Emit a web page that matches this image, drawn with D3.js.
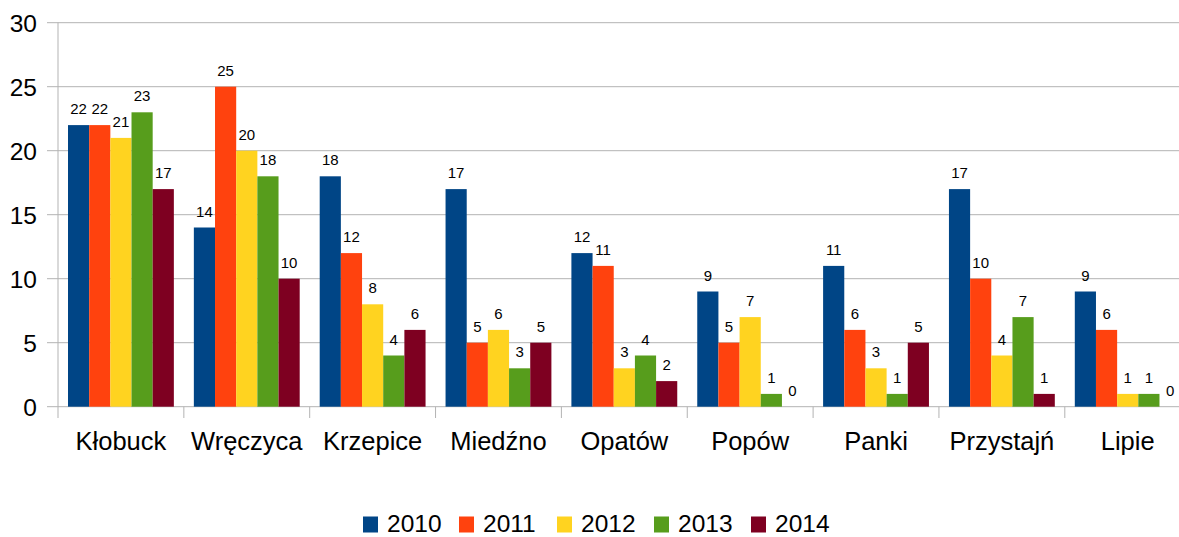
<!DOCTYPE html>
<html><head><meta charset="utf-8">
<script src="https://cdn.jsdelivr.net/npm/d3@7"></script>
<style>body{margin:0;background:#fff;overflow:hidden}svg{display:block;font-family:"Liberation Sans",Arial,sans-serif}</style>
</head><body><svg id="c" width="1179" height="537"></svg>
<script>
const categories = ["Kłobuck","Wręczyca","Krzepice","Miedźno","Opatów","Popów","Panki","Przystajń","Lipie"];
const years = ["2010","2011","2012","2013","2014"];
const s2010 = [22,14,18,17,12,9,11,17,9];
const s2011 = [22,25,12,5,11,5,6,10,6];
const s2012 = [21,20,8,6,3,7,3,4,1];
const s2013 = [23,18,4,3,4,1,1,7,1];
const s2014 = [17,10,6,5,2,0,5,1,0];
const yTicks = [0,5,10,15,20,25,30];
const colors = ["#004586","#ff420e","#ffd320","#579d1c","#7e0021"];

const series = [s2010,s2011,s2012,s2013,s2014];
const svg = d3.select("#c");
const plotLeft = 58, bw = 125.85, plotTop = 22.7, plotBottom = 406.7;
const x = d3.scaleBand().domain(categories).range([plotLeft, plotLeft + bw*categories.length]).padding(0);
const xi = d3.scaleBand().domain(years).range([10, bw-10]).padding(0);
const y = d3.scaleLinear().domain([0,30]).range([plotBottom, plotTop]);

// gridlines
svg.append("g").selectAll("line").data(yTicks).join("line")
  .attr("x1", 47).attr("x2", plotLeft + bw*9).attr("y1", d=>y(d)).attr("y2", d=>y(d))
  .attr("stroke", "#b3b3b3").attr("stroke-width", 1);
// y labels
svg.append("g").selectAll("text").data(yTicks).join("text")
  .attr("x", 37).attr("y", d=>y(d)+9).attr("text-anchor","end")
  .attr("font-size", 24.5).attr("fill","#000").text(d=>d);
// y axis line
svg.append("line").attr("x1", plotLeft).attr("x2", plotLeft).attr("y1", plotTop).attr("y2", 418)
  .attr("stroke","#b3b3b3").attr("stroke-width",1);
// category ticks
svg.append("g").selectAll("line").data(categories).join("line")
  .attr("x1", d=>x(d)+bw).attr("x2", d=>x(d)+bw)
  .attr("y1", plotBottom).attr("y2", 418).attr("stroke","#b3b3b3");

// bars
const g = svg.append("g");
categories.forEach((c,ci)=>{
  years.forEach((yr,si)=>{
    const v = series[si][ci];
    const bx = x(c) + xi(yr);
    g.append("rect").attr("x", bx).attr("y", y(v)).attr("width", xi.bandwidth())
      .attr("height", y(0)-y(v)).attr("fill", colors[si]);
    g.append("text").attr("x", bx + xi.bandwidth()/2).attr("y", y(v)-11)
      .attr("text-anchor","middle").attr("font-size",15).attr("fill","#000").text(v);
  });
});
// category labels
svg.append("g").selectAll("text").data(categories).join("text")
  .attr("x", d=>x(d)+bw/2).attr("y", 450).attr("text-anchor","middle")
  .attr("font-size",25.5).attr("fill","#000").text(d=>d);

// legend
const lg = svg.append("g");
const legX = [363,459,557,654,751];
years.forEach((yr,i)=>{
  lg.append("rect").attr("x", legX[i]).attr("y", 516.5).attr("width",15).attr("height",16).attr("fill",colors[i]);
  lg.append("text").attr("x", legX[i]+24).attr("y", 531.5).attr("font-size",24.5).attr("fill","#000").text(yr);
});
</script></body></html>
